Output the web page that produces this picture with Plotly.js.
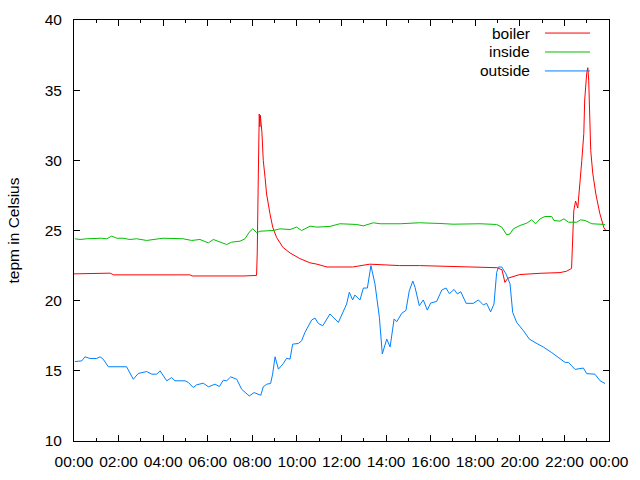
<!DOCTYPE html>
<html>
<head>
<meta charset="utf-8">
<script src="https://cdn.plot.ly/plotly-3.0.1.min.js"></script>
<style>html,body{margin:0;padding:0;background:#fff}#chart{width:640px;height:480px}</style>
</head>
<body>
<div id="chart"></div>
<script>
// time in hours since 00:00
const boilerT = [0.00,1.47,1.62,1.77,5.20,5.30,7.45,7.54,7.63,8.19,8.22,8.27,8.31,8.34,8.36,8.43,8.49,8.57,8.64,8.79,8.92,9.09,9.37,9.69,10.13,10.58,10.90,11.35,12.50,13.27,14.00,14.60,15.50,16.50,17.50,18.50,18.97,19.20,19.33,19.46,20.00,20.90,21.80,22.10,22.32,22.42,22.50,22.60,22.69,22.78,22.87,22.91,23.00,23.05,23.09,23.14,23.18,23.27,23.41,23.59,23.77,23.86];
const boilerV = [21.91,21.91,21.96,21.84,21.84,21.76,21.76,21.72,21.76,21.80,23.4,29.1,33.3,32.4,33.2,32.0,30.0,28.8,27.6,26.2,25.2,24.5,23.8,23.4,23.0,22.7,22.6,22.4,22.4,22.6,22.55,22.5,22.5,22.45,22.45,22.4,22.35,22.2,21.3,21.6,21.86,21.95,22.0,22.1,22.3,26.4,27.1,26.6,28.1,30.0,31.9,34.3,36.2,36.6,35.7,33.1,30.7,29.1,27.6,26.2,25.2,25.0];

const insideT = [0.04,0.27,0.57,1.24,1.47,1.69,1.92,2.20,2.51,2.81,3.26,3.71,3.99,4.89,5.28,5.65,6.03,6.25,6.47,6.85,7.07,7.45,7.67,7.86,8.02,8.20,8.34,8.94,9.24,9.69,9.99,10.21,10.59,10.89,11.48,11.93,12.68,12.98,13.43,13.73,14.63,15.50,16.42,17.00,18.21,18.96,19.19,19.41,19.56,19.71,20.01,20.31,20.53,20.71,20.91,21.13,21.43,21.53,21.80,21.98,22.18,22.55,22.73,22.93,23.23,23.60,23.82];
const insideV = [24.41,24.36,24.41,24.45,24.41,24.60,24.45,24.45,24.36,24.41,24.29,24.41,24.45,24.41,24.29,24.36,24.12,24.36,24.24,24.00,24.17,24.24,24.41,24.88,25.12,24.84,24.95,25.00,25.12,25.07,25.24,25.00,25.31,25.24,25.29,25.48,25.43,25.33,25.55,25.48,25.48,25.55,25.50,25.45,25.48,25.43,25.24,24.69,24.76,25.12,25.36,25.52,25.76,25.48,25.83,26.00,26.00,25.71,25.67,25.83,25.59,25.59,25.76,25.71,25.48,25.43,25.43];

const outsideT = [0.04,0.35,0.49,0.72,1.02,1.17,1.31,1.54,2.36,2.51,2.66,2.88,3.26,3.49,3.71,3.86,4.16,4.38,4.53,4.98,5.13,5.35,5.50,5.80,6.03,6.33,6.52,6.70,6.85,7.03,7.30,7.52,7.86,8.08,8.31,8.38,8.49,8.65,8.82,8.91,9.02,9.17,9.39,9.54,9.69,9.81,10.06,10.21,10.36,10.66,10.81,10.96,11.16,11.48,11.86,12.08,12.23,12.35,12.50,12.60,12.83,12.98,13.16,13.32,13.50,13.70,13.83,14.03,14.18,14.36,14.48,14.70,14.89,15.04,15.20,15.30,15.49,15.67,15.85,16.00,16.27,16.50,16.69,16.84,17.05,17.20,17.35,17.59,17.91,18.14,18.36,18.51,18.69,18.84,18.96,19.04,19.19,19.38,19.56,19.68,19.86,20.16,20.43,20.68,21.05,21.43,21.73,22.03,22.18,22.48,22.85,23.00,23.37,23.60,23.82];
const outsideV = [15.66,15.71,16.00,15.88,15.88,16.00,15.83,15.29,15.29,14.88,14.40,14.81,14.95,14.76,14.76,15.00,14.29,14.52,14.29,14.29,14.17,13.81,14.00,14.12,13.86,14.05,13.88,14.33,14.29,14.57,14.40,13.69,13.21,13.45,13.33,13.26,13.86,14.05,14.10,14.76,16.00,15.12,15.52,15.90,15.83,16.90,16.95,17.14,17.74,18.62,18.76,18.38,18.21,19.05,18.45,19.17,19.76,20.60,20.05,20.40,20.05,20.90,20.90,22.50,21.20,18.80,16.20,17.26,16.70,18.70,18.50,19.10,19.30,20.70,21.40,20.95,19.64,20.05,19.33,19.83,19.95,20.76,20.90,20.50,20.80,20.48,20.64,19.81,19.81,20.05,19.70,19.81,19.20,19.76,22.00,22.40,22.40,21.90,21.20,19.16,18.45,17.86,17.26,17.02,16.70,16.30,15.95,15.60,15.60,15.10,15.20,14.80,14.76,14.29,14.10];

const seriesNames = ['boiler','inside','outside'];
const seriesColors = ['#ff0000','#00c000','#0080ff'];
const tickHours = [0,2,4,6,8,10,12,14,16,18,20,22,24];
const tickLabels = ['00:00','02:00','04:00','06:00','08:00','10:00','12:00','14:00','16:00','18:00','20:00','22:00','00:00'];

const FONT = 'Liberation Sans, Arial, sans-serif';
const xs = [boilerT, insideT, outsideT];
const ys = [boilerV, insideV, outsideV];
const traces = seriesNames.map((n,i)=>({
  x: xs[i], y: ys[i], name: n, type:'scatter', mode:'lines',
  line:{color:seriesColors[i], width:1}, showlegend:false, hoverinfo:'skip'
}));

// legend drawn gnuplot-style (text then sample line)
const legY = [0.969, 0.924, 0.879];
const annotations = seriesNames.map((n,i)=>({
  xref:'paper', yref:'paper', x:0.856, y:legY[i], xanchor:'right', yanchor:'middle',
  text:n, showarrow:false, font:{family:FONT, size:15.5, color:'#000'}
}));
const shapes = seriesNames.map((n,i)=>({
  type:'line', xref:'paper', yref:'paper', x0:0.8804, x1:0.9645, y0:legY[i], y1:legY[i],
  line:{color:seriesColors[i], width:1}
}));

const layout = {
  width:640, height:480,
  margin:{l:74, r:31, t:20, b:39, pad:0},
  paper_bgcolor:'#fff', plot_bgcolor:'#fff',
  font:{family:FONT, size:15.5, color:'#000'},
  xaxis:{
    range:[0,24], tickvals:tickHours, ticktext:tickLabels,
    ticks:'inside', ticklen:6, tickcolor:'#000', tickwidth:1,
    minor:{dtick:1, ticks:'inside', ticklen:3, tickcolor:'#000'},
    showline:true, linecolor:'#000', linewidth:1, mirror:'ticks',
    showgrid:false, zeroline:false, ticklabelstandoff:6,
    tickfont:{family:FONT, size:15.5}
  },
  yaxis:{
    range:[10,40], dtick:5, tick0:10,
    ticks:'inside', ticklen:6, tickcolor:'#000', tickwidth:1,
    showline:true, linecolor:'#000', linewidth:1, mirror:'ticks',
    showgrid:false, zeroline:false, ticklabelstandoff:8,
    tickfont:{family:FONT, size:15.5},
    title:{text:'tepm in Celsius', font:{family:FONT, size:15.5}, standoff:21}
  },
  annotations, shapes, showlegend:false
};
Plotly.newPlot('chart', traces, layout, {staticPlot:true, displayModeBar:false});
</script>
</body>
</html>
